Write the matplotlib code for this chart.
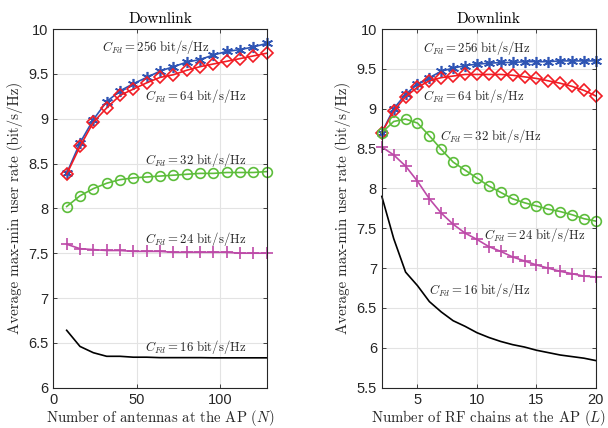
import matplotlib
matplotlib.use("Agg")
import matplotlib.pyplot as plt
import numpy as np

plt.rcParams['mathtext.fontset'] = 'cm'
plt.rcParams['font.family'] = ['Liberation Sans', 'DejaVu Sans']

# ---- data: left panel (vs number of antennas N) ----
N = [8, 16, 24, 32, 40, 48, 56, 64, 72, 80, 88, 96, 104, 112, 120, 128]
left_256 = [8.39, 8.73, 8.99, 9.19, 9.31, 9.39, 9.46, 9.53, 9.58, 9.63, 9.66, 9.71, 9.75, 9.77, 9.80, 9.84]
left_64 = [8.38, 8.69, 8.96, 9.12, 9.26, 9.33, 9.40, 9.46, 9.49, 9.54, 9.58, 9.61, 9.64, 9.67, 9.70, 9.73]
left_32 = [8.02, 8.14, 8.22, 8.28, 8.32, 8.34, 8.35, 8.36, 8.37, 8.38, 8.39, 8.39, 8.40, 8.40, 8.40, 8.41]
left_24 = [7.60, 7.55, 7.54, 7.53, 7.53, 7.52, 7.52, 7.52, 7.51, 7.51, 7.51, 7.51, 7.51, 7.50, 7.50, 7.50]
left_16 = [6.64, 6.46, 6.39, 6.35, 6.35, 6.34, 6.34, 6.335, 6.335, 6.335, 6.335, 6.333, 6.333, 6.333, 6.333, 6.333]

# ---- data: right panel (vs number of RF chains L) ----
L = list(range(2, 21))
right_256 = [8.70, 9.00, 9.18, 9.31, 9.39, 9.47, 9.51, 9.54, 9.56, 9.57, 9.58, 9.58, 9.59, 9.59, 9.59, 9.60, 9.60, 9.60, 9.60]
right_64 = [8.70, 8.97, 9.15, 9.27, 9.35, 9.39, 9.41, 9.43, 9.43, 9.43, 9.43, 9.42, 9.40, 9.38, 9.35, 9.32, 9.28, 9.23, 9.16]
right_32 = [8.70, 8.84, 8.87, 8.82, 8.66, 8.49, 8.33, 8.23, 8.13, 8.03, 7.95, 7.87, 7.82, 7.78, 7.74, 7.71, 7.67, 7.62, 7.59]
right_24 = [8.52, 8.42, 8.28, 8.09, 7.87, 7.69, 7.55, 7.44, 7.36, 7.27, 7.21, 7.14, 7.09, 7.04, 7.00, 6.96, 6.93, 6.90, 6.89]
right_16 = [7.90, 7.37, 6.95, 6.78, 6.58, 6.45, 6.34, 6.27, 6.19, 6.13, 6.08, 6.04, 6.01, 5.97, 5.94, 5.91, 5.89, 5.87, 5.84]

labels = ['256', '64', '32', '24', '16']
colors = ['#2f55b4', '#f21c24', '#5dbd3b', '#bd4aa8', 'black']
markers = [(6, 2, 0), 'D', 'o', '+', None]
msizes = [8, 6, 7, 9, 0]

serif = 'cmr10'


def style_axes(ax):
    ax.grid(True, color='#e3e3e3', linewidth=0.8)
    ax.set_axisbelow(True)
    ax.tick_params(direction='in', top=True, right=True, length=3,
                   labelsize=10.5, colors='#262626', width=0.6)
    for s in ax.spines.values():
        s.set_linewidth(0.8)
        s.set_color('#262626')
    ax.set_title('Downlink', fontfamily=serif, fontsize=11, pad=4)


fig = plt.figure(figsize=(6.08, 4.28), dpi=100)
ax1 = fig.add_axes([0.0877, 0.0942, 0.351, 0.838])
ax2 = fig.add_axes([0.628, 0.0942, 0.352, 0.838])

left_series = [left_256, left_64, left_32, left_24, left_16]
right_series = [right_256, right_64, right_32, right_24, right_16]

for ys, c, m, ms in zip(left_series, colors, markers, msizes):
    mfc = 'none' if m in ('D', 'o') else c
    ax1.plot(N, ys, color=c, marker=m, markersize=ms, markerfacecolor=mfc,
             markeredgewidth=1.2, linewidth=1.2, clip_on=False)
for ys, c, m, ms in zip(right_series, colors, markers, msizes):
    mfc = 'none' if m in ('D', 'o') else c
    ax2.plot(L, ys, color=c, marker=m, markersize=ms, markerfacecolor=mfc,
             markeredgewidth=1.2, linewidth=1.2, clip_on=False)

# annotations
left_txt_pos = [(29, 9.80), (55, 9.25), (55, 8.54), (55, 7.66), (55, 6.45)]
right_txt_pos = [(5.47, 9.76), (5.47, 9.16), (6.86, 8.66), (10.6, 7.42), (5.97, 6.72)]
for lab, (x, y) in zip(labels, left_txt_pos):
    ax1.text(x, y, r'$C_{Fd}=%s\ \mathrm{bit/s/Hz}$' % lab, fontsize=9.2,
             va='center', ha='left', color='#262626')
for lab, (x, y) in zip(labels, right_txt_pos):
    ax2.text(x, y, r'$C_{Fd}=%s\ \mathrm{bit/s/Hz}$' % lab, fontsize=9.2,
             va='center', ha='left', color='#262626')

ax1.set_xlim(0, 128)
ax1.set_ylim(6, 10)
ax1.set_xticks([0, 50, 100])
ax1.set_yticks(np.arange(6, 10.01, 0.5))
ax1.set_yticklabels(['6', '6.5', '7', '7.5', '8', '8.5', '9', '9.5', '10'])
ax1.set_xlabel(r'Number of antennas at the AP ($N$)', fontfamily=serif, fontsize=10.6, labelpad=1, color='#262626')
ax1.set_ylabel('Average max-min user rate (bit/s/Hz)', fontfamily=serif, fontsize=10.8, labelpad=4, color='#262626')
style_axes(ax1)

ax2.set_xlim(2, 20)
ax2.set_ylim(5.5, 10)
ax2.set_xticks([5, 10, 15, 20])
ax2.set_yticks(np.arange(5.5, 10.01, 0.5))
ax2.set_yticklabels(['5.5', '6', '6.5', '7', '7.5', '8', '8.5', '9', '9.5', '10'])
ax2.set_xlabel(r'Number of RF chains at the AP ($L$)', fontfamily=serif, fontsize=10.6, labelpad=1, color='#262626')
ax2.set_ylabel('Average max-min user rate (bit/s/Hz)', fontfamily=serif, fontsize=10.8, labelpad=4, color='#262626')
style_axes(ax2)

fig.savefig('out.png', dpi=100)
